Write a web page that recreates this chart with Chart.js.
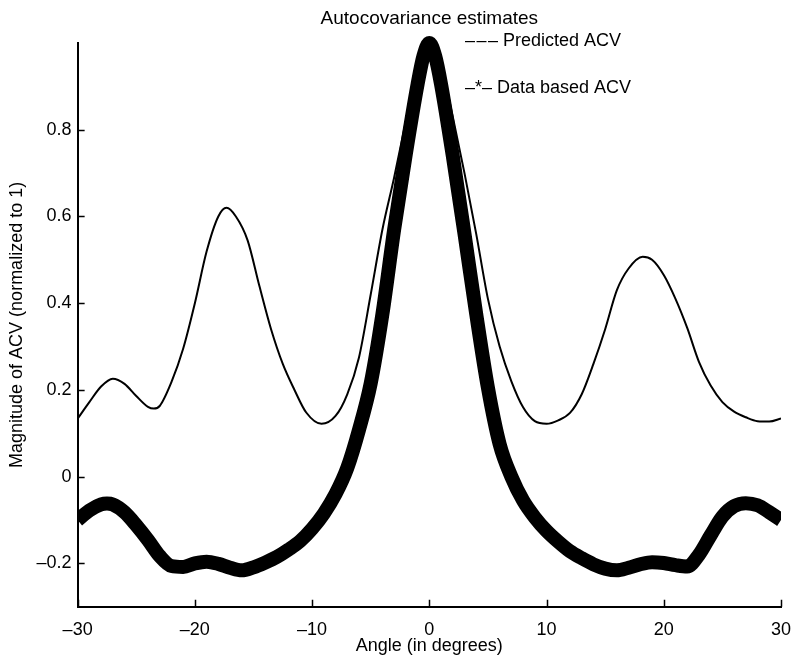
<!DOCTYPE html>
<html>
<head>
<meta charset="utf-8">
<title>Autocovariance estimates</title>
<script src="https://cdn.jsdelivr.net/npm/chart.js@4"></script>
<style>
  html, body { margin: 0; padding: 0; background: #fff; }
  #wrap { width: 795px; height: 662px; }
</style>
</head>
<body>
<div id="wrap"><canvas id="acvChart" width="795" height="662"></canvas></div>
<script>
// Predicted ACV (thin line)
const predAngle = [-30, -29, -28, -27, -26, -25, -24, -23.5, -23, -22, -21, -20, -19, -18, -17.3, -16.5, -15.5, -14.5, -13.5, -12.5, -11.5, -10.5, -9.2, -8, -7, -6, -5, -4, -3, -2, -1, 0,
  1, 2, 3, 4, 5, 6, 7, 8, 9, 10, 11, 12, 13, 14, 15, 16, 17, 18.2, 19, 20, 21, 22, 23, 24, 25, 26, 27, 28, 29, 30];
const predValue = [0.134, 0.172, 0.208, 0.226, 0.214, 0.186, 0.161, 0.157, 0.163, 0.218, 0.295, 0.4, 0.519, 0.6, 0.62, 0.6, 0.545, 0.44, 0.34, 0.26, 0.2, 0.148, 0.122, 0.14, 0.19, 0.275, 0.42, 0.57, 0.69, 0.82, 0.95, 1.0,
  0.95, 0.83, 0.7, 0.56, 0.41, 0.3, 0.22, 0.16, 0.128, 0.122, 0.13, 0.147, 0.19, 0.26, 0.34, 0.43, 0.48, 0.507, 0.5, 0.465, 0.41, 0.343, 0.265, 0.21, 0.172, 0.15, 0.137, 0.128, 0.127, 0.134];

// Data based ACV (thick starred line)
const dataAngle = [-30, -29, -28, -27.5, -27, -26, -25, -24, -23, -22, -21, -20, -19, -18, -17, -16, -15, -14, -13, -12, -11, -10, -9, -8, -7, -6, -5, -4, -3, -2, -1, -0.5, 0,
  0.5, 1, 2, 3, 4, 5, 6, 7, 8, 9, 10, 11, 12, 13, 14, 15, 16, 17, 18, 19, 20, 21, 22, 23, 24, 25, 26, 27, 28, 29, 30];
const dataValue = [-0.1, -0.078, -0.064, -0.062, -0.064, -0.082, -0.112, -0.146, -0.183, -0.206, -0.208, -0.2, -0.196, -0.201, -0.21, -0.216, -0.209, -0.198, -0.185, -0.168, -0.148, -0.12, -0.085, -0.04, 0.02, 0.108, 0.215, 0.375, 0.57, 0.745, 0.905, 0.97, 1.0,
  0.97, 0.905, 0.74, 0.56, 0.375, 0.205, 0.075, 0.0, -0.055, -0.094, -0.125, -0.15, -0.172, -0.188, -0.202, -0.212, -0.216, -0.21, -0.202, -0.197, -0.199, -0.204, -0.207, -0.18, -0.135, -0.092, -0.068, -0.061, -0.066, -0.082, -0.1];

const xTicks = [-30, -20, -10, 0, 10, 20, 30];
const yTicks = [-0.2, 0, 0.2, 0.4, 0.6, 0.8];
const legendLabels = ["\u2013\u200a\u2013\u200a\u2013 Predicted ACV", "\u2013*\u2013 Data based ACV"];

const FONT = "'Liberation Sans', Arial, sans-serif";

const toPoints = (xs, ys) => xs.map((x, i) => ({ x: x, y: ys[i] }));
const fmt = v => String(Math.round(v * 10) / 10).replace("-", "\u2013");

// inward ticks, title and the text legend
const decor = {
  id: "decor",
  afterDraw(chart) {
    const { ctx, chartArea: a, scales: { x, y } } = chart;
    ctx.save();
    ctx.strokeStyle = "#000";
    ctx.lineWidth = 1.5;
    ctx.beginPath();
    yTicks.forEach(v => {
      const py = Math.round(y.getPixelForValue(v)) + 0.5;
      ctx.moveTo(a.left, py);
      ctx.lineTo(a.left + 7, py);
    });
    xTicks.forEach(v => {
      const px = Math.round(x.getPixelForValue(v)) + 0.5;
      ctx.moveTo(px, a.bottom);
      ctx.lineTo(px, a.bottom - 7);
    });
    ctx.stroke();

    ctx.fillStyle = "#000";
    ctx.textBaseline = "middle";
    ctx.font = "19px " + FONT;
    ctx.textAlign = "center";
    ctx.fillText("Autocovariance estimates", (a.left + a.right) / 2, 19);

    ctx.font = "18px " + FONT;
    ctx.textAlign = "left";
    ctx.fillText(legendLabels[0], 465, 41);
    ctx.fillText(legendLabels[1], 465, 88);
    ctx.restore();
  }
};

new Chart(document.getElementById("acvChart"), {
  type: "scatter",
  data: {
    datasets: [
      {
        label: "Predicted ACV",
        data: toPoints(predAngle, predValue),
        showLine: true,
        borderColor: "#000",
        borderWidth: 2,
        pointRadius: 0,
        cubicInterpolationMode: "monotone",
        clip: { left: 0, right: 0, top: 10, bottom: 0 }
      },
      {
        label: "Data based ACV",
        data: toPoints(dataAngle, dataValue),
        showLine: true,
        borderColor: "#000",
        borderWidth: 14,
        pointRadius: 0,
        cubicInterpolationMode: "monotone",
        clip: { left: 0, right: 0, top: 10, bottom: 0 }
      }
    ]
  },
  options: {
    responsive: false,
    animation: false,
    layout: { padding: { top: 43, right: 14, left: 2, bottom: 5 } },
    plugins: {
      legend: { display: false },
      tooltip: { enabled: false },
      title: { display: false }
    },
    scales: {
      x: {
        type: "linear",
        min: -30,
        max: 30,
        afterBuildTicks: s => { s.ticks = xTicks.map(v => ({ value: v })); },
        afterFit: s => { s.paddingRight = 0; },
        grid: { display: false, drawTicks: false },
        border: { display: true, color: "#000", width: 2 },
        ticks: {
          color: "#000",
          padding: 12,
          font: { family: FONT, size: 18 },
          callback: v => fmt(v)
        },
        title: {
          display: true,
          text: "Angle (in degrees)",
          color: "#000",
          font: { family: FONT, size: 18 },
          padding: { top: -17, bottom: 0 }
        }
      },
      y: {
        type: "linear",
        min: -0.3,
        max: 1.0,
        afterBuildTicks: s => { s.ticks = yTicks.map(v => ({ value: v })); },
        grid: { display: false, drawTicks: false },
        border: { display: true, color: "#000", width: 2 },
        ticks: {
          color: "#000",
          padding: 6,
          font: { family: FONT, size: 18 },
          callback: v => fmt(v)
        },
        title: {
          display: true,
          text: "Magnitude of ACV (normalized to 1)",
          color: "#000",
          font: { family: FONT, size: 18 },
          padding: { top: 4, bottom: 3 }
        }
      }
    }
  },
  plugins: [decor]
});
</script>
</body>
</html>
